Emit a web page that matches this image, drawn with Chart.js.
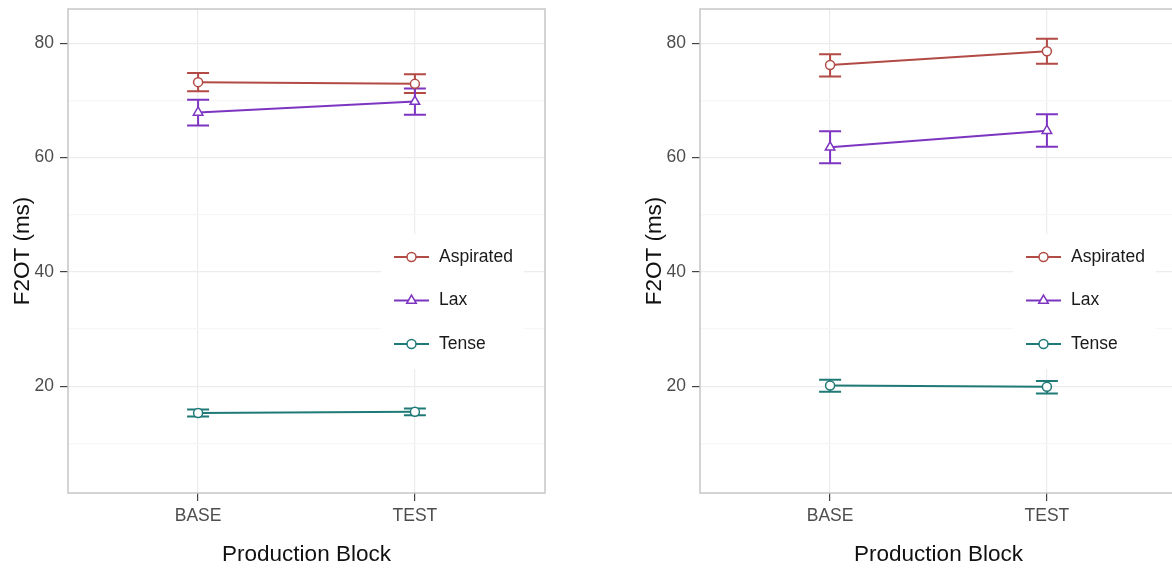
<!DOCTYPE html>
<html>
<head>
<meta charset="utf-8">
<script src="https://cdn.jsdelivr.net/npm/chart.js@4/dist/chart.umd.min.js"></script>
<style>
  html, body { margin: 0; padding: 0; background: #fff; overflow: hidden; }
  #wrap { position: relative; width: 1172px; height: 569px; overflow: hidden; }
  .panel { position: absolute; top: 0; width: 632px; height: 569px; }
</style>
</head>
<body>
<div id="wrap">
  <div class="panel" style="left:0"><canvas id="left" width="632" height="569"></canvas></div>
  <div class="panel" style="left:632px"><canvas id="right" width="632" height="569"></canvas></div>
</div>
<script>
// Data
const categories = ['BASE', 'TEST'];
const seriesNames = ['Aspirated', 'Lax', 'Tense'];
const seriesColors = ['#b24a45', '#7d35c1', '#1f7a77'];
const seriesShapes = ['circle', 'triangle', 'circle'];

// left panel
const leftAspirated = [73.2, 72.9];
const leftAspiratedLow = [71.6, 71.3];
const leftAspiratedHigh = [74.8, 74.6];
const leftLax = [67.9, 69.8];
const leftLaxLow = [65.6, 67.5];
const leftLaxHigh = [70.1, 72.1];
const leftTense = [15.3, 15.5];
const leftTenseLow = [14.7, 14.9];
const leftTenseHigh = [15.9, 16.1];

// right panel
const rightAspirated = [76.2, 78.6];
const rightAspiratedLow = [74.2, 76.4];
const rightAspiratedHigh = [78.1, 80.8];
const rightLax = [61.8, 64.7];
const rightLaxLow = [59.0, 61.9];
const rightLaxHigh = [64.6, 67.6];
const rightTense = [20.1, 19.9];
const rightTenseLow = [19.0, 18.7];
const rightTenseHigh = [21.1, 20.9];

const yTicks = [10, 20, 30, 40, 50, 60, 70, 80];
const yMin = 1.3, yMax = 86;

const FONT = '"Liberation Sans", Arial, Helvetica, sans-serif';

// error bars drawn under the lines and points
const errorBars = {
  id: 'errorBars',
  beforeDatasetsDraw(chart) {
    const {ctx, scales: {x, y}} = chart;
    ctx.save();
    ctx.lineWidth = 2;
    chart.data.datasets.forEach(ds => {
      ctx.strokeStyle = ds.borderColor;
      ds.data.forEach((p, i) => {
        const px = x.getPixelForValue(p.x);
        const lo = y.getPixelForValue(ds.low[i]);
        const hi = y.getPixelForValue(ds.high[i]);
        ctx.beginPath();
        ctx.moveTo(px, lo); ctx.lineTo(px, hi);
        ctx.moveTo(px - 11, lo); ctx.lineTo(px + 11, lo);
        ctx.moveTo(px - 11, hi); ctx.lineTo(px + 11, hi);
        ctx.stroke();
      });
    });
    ctx.restore();
  }
};

// panel border + legend box inside the panel
const panelDecor = {
  id: 'panelDecor',
  afterDraw(chart) {
    const {ctx, chartArea: a} = chart;
    ctx.save();
    // legend
    const lx = a.left + 313, ly = a.top + 225;
    ctx.fillStyle = '#fff';
    ctx.fillRect(lx, ly, 143, 135);
    chart.data.datasets.forEach((ds, i) => {
      const cy = a.top + 248 + i * 43.5;
      ctx.strokeStyle = ds.borderColor;
      ctx.lineWidth = 2;
      ctx.beginPath();
      ctx.moveTo(a.left + 326, cy); ctx.lineTo(a.left + 361, cy);
      ctx.stroke();
      ctx.fillStyle = '#fff';
      ctx.lineWidth = 1.5;
      Chart.helpers.drawPoint(ctx, {pointStyle: ds.pointStyle, radius: ds.pointRadius, borderWidth: 1.5, rotation: 0}, a.left + 343.5, cy);
      ctx.fillStyle = '#1a1a1a';
      ctx.font = '17.5px ' + FONT;
      ctx.textBaseline = 'middle';
      ctx.textAlign = 'left';
      ctx.fillText(ds.label, a.left + 371, cy);
    });
    // border
    ctx.strokeStyle = '#c6c6c6';
    ctx.lineWidth = 1.5;
    ctx.strokeRect(a.left, a.top, a.right - a.left, a.bottom - a.top);
    ctx.restore();
  }
};

function makePanel(canvasId, means, lows, highs) {
  const datasets = seriesNames.map((name, s) => ({
    label: name,
    data: means[s].map((v, i) => ({x: i + 1, y: v})),
    low: lows[s],
    high: highs[s],
    borderColor: seriesColors[s],
    backgroundColor: '#fff',
    borderWidth: 2,
    pointStyle: seriesShapes[s],
    pointRadius: seriesShapes[s] === 'triangle' ? 5.5 : 4.5,
    pointBorderWidth: 1.5,
    pointBackgroundColor: '#fff',
    pointBorderColor: seriesColors[s],
    tension: 0
  }));

  return new Chart(document.getElementById(canvasId), {
    type: 'line',
    data: {datasets},
    options: {
      responsive: false,
      animation: false,
      layout: {padding: {top: 9, right: 87, left: 0, bottom: 0}},
      plugins: {legend: {display: false}, tooltip: {enabled: false}},
      scales: {
        x: {
          type: 'linear',
          min: 0.4, max: 2.6,
          afterBuildTicks: s => { s.ticks = categories.map((c, i) => ({value: i + 1})); },
          afterFit: s => { s.height = 76; s.paddingLeft = 0; s.paddingRight = 0; },
          ticks: {
            callback: v => categories[v - 1],
            color: '#4d4d4d',
            font: {family: FONT, size: 17.5},
            padding: 5,
            maxRotation: 0
          },
          grid: {color: '#ececec', lineWidth: 1.2, tickColor: '#444', tickLength: 8},
          border: {display: false},
          title: {
            display: true, text: 'Production Block', color: '#111',
            font: {family: FONT, size: 22.5}, padding: {top: 0, bottom: 1}
          }
        },
        y: {
          type: 'linear',
          min: yMin, max: yMax,
          afterBuildTicks: s => { s.ticks = yTicks.map(v => ({value: v})); },
          afterFit: s => { s.width = 68; s.paddingTop = 0; s.paddingBottom = 0; },
          ticks: {
            callback: v => (v % 20 === 0 ? v : ''),
            color: '#4d4d4d',
            font: {family: FONT, size: 17.5},
            padding: 6
          },
          grid: {
            color: c => (c.tick && c.tick.value % 20 === 0 ? '#ececec' : '#f6f6f6'),
            lineWidth: 1.2,
            tickColor: c => (c.tick && c.tick.value % 20 === 0 ? '#444' : 'rgba(0,0,0,0)'),
            tickLength: 8
          },
          border: {display: false},
          title: {
            display: true, text: 'F2OT (ms)', color: '#111',
            font: {family: FONT, size: 22.5}, padding: {top: 9, bottom: 0}
          }
        }
      }
    },
    plugins: [errorBars, panelDecor]
  });
}

makePanel('left',
  [leftAspirated, leftLax, leftTense],
  [leftAspiratedLow, leftLaxLow, leftTenseLow],
  [leftAspiratedHigh, leftLaxHigh, leftTenseHigh]);

makePanel('right',
  [rightAspirated, rightLax, rightTense],
  [rightAspiratedLow, rightLaxLow, rightTenseLow],
  [rightAspiratedHigh, rightLaxHigh, rightTenseHigh]);
</script>
</body>
</html>
